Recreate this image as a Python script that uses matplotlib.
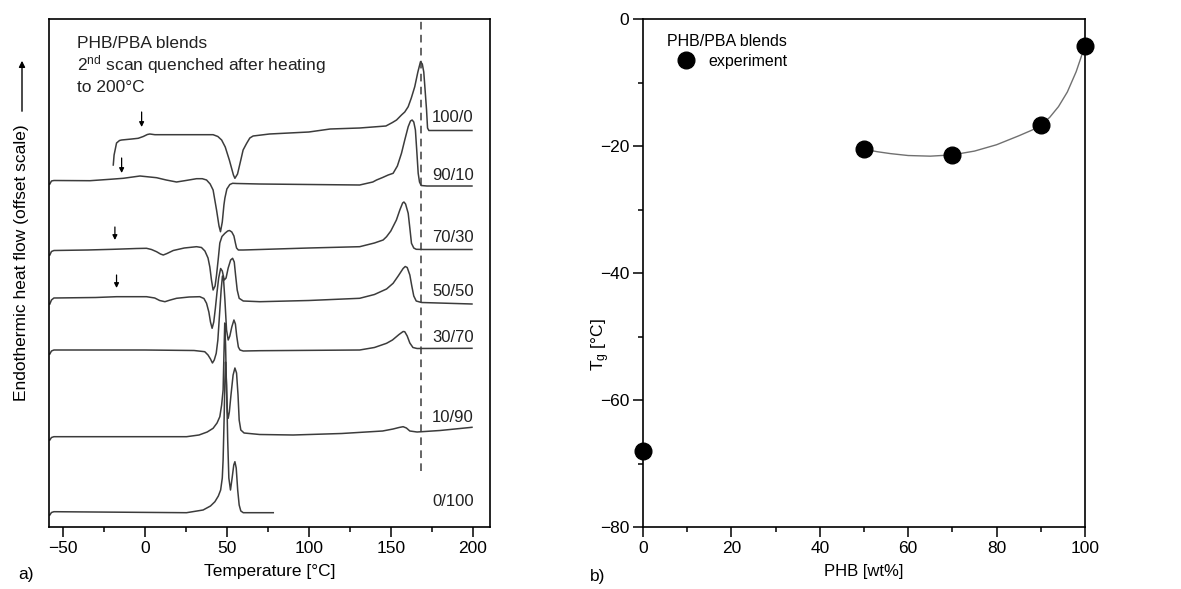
import matplotlib
matplotlib.use("Agg")
import matplotlib.pyplot as plt
from matplotlib.ticker import MultipleLocator

plt.rcParams['font.family'] = ['Liberation Sans', 'DejaVu Sans']
plt.rcParams['mathtext.fontset'] = 'custom'
plt.rcParams['mathtext.rm'] = 'Liberation Sans'
plt.rcParams['mathtext.it'] = 'Liberation Sans:italic'

# ---- a) DSC second heating scans (offset heat flow, arbitrary units) ----
t_100_0 = [-19.3, -18.8, -17.3, -15.5, -14.2, -8, -4.1, -1, 1.5, 3.0, 6.1, 20, 41.6, 44.5, 46.8, 49,
           51.5, 54, 54.9, 56.5, 58.5, 59.9, 62, 64, 66, 76, 100, 113, 131, 147, 151, 153.5, 156.5,
           158.5, 160.6, 162.5, 164.6, 166.5, 168.1, 169.2, 170.1, 171, 171.8, 172.4, 173.2, 180, 199.5]
hf_100_0 = [362, 372, 384, 386.5, 387, 388, 388.7, 390.5, 392.5, 393, 392.3, 392.3, 392.3, 390.5, 387, 380,
            367, 352, 348.7, 353, 367, 377, 383.5, 389, 391, 393, 395, 398, 399, 401, 404.5, 407, 412,
            415, 420.3, 429, 440.3, 455, 465.3, 463, 455, 435, 417, 399, 396.5, 396.5, 396.5]

t_90_10 = [-58, -57, -55.5, -33.5, -21.3, -13.2, -3, 7.1, 13, 19.3, 25, 31.5, 35, 37.6, 39.8, 41.6,
           43.7, 45.2, 46.1, 47.2, 48.2, 48.8, 50, 51.8, 53.5, 56, 70, 100, 131, 139, 141.3, 145,
           148.4, 151.4, 154, 156.5, 158.5, 160.6, 162, 163, 164, 165, 165.8, 166.7, 167.5, 168.5, 172, 199.5]
hf_90_10 = [343, 346, 346.5, 346.3, 347.7, 348.7, 351, 349.3, 347, 345, 346.5, 348.3, 348.3, 347, 343, 337,
            317, 301, 295.3, 305, 322, 329, 338, 342.5, 343.7, 343.5, 343, 342.5, 342, 345, 347, 349.5,
            352, 353.7, 361, 373.7, 387, 400.3, 406, 407, 405, 397, 377, 353.7, 345, 341.5, 341, 341]

t_70_30 = [-58, -57, -55.5, -35, -19.3, -5, 1, 4, 7.1, 9.5, 11.2, 13.5, 17.3, 24, 31.5, 34.5, 36.6,
           38.5, 39.6, 40.6, 41.6, 42.8, 43.7, 44.8, 45.7, 47, 48.8, 50.5, 51.6, 53, 54.3, 55.2, 55.9,
           57, 60, 70.1, 100, 131, 140, 145.3, 147.4, 150, 153.4, 155.5, 157.2, 158, 159, 160.6,
           161.6, 162.6, 164, 165.5, 170, 199.5]
hf_70_30 = [272, 275.5, 276.5, 277, 277.7, 278.5, 278.7, 277.5, 275.3, 273, 272, 273.5, 276.5, 279, 280.3,
            279.5, 276, 269, 260, 247, 237, 241, 252, 269, 284, 290.5, 293.7, 296, 296.5, 295, 291, 284,
            279, 277, 277, 277.5, 279, 280.3, 284, 287, 290.3, 296, 307, 317, 324, 325, 323, 313.7,
            299, 283.7, 279, 277.7, 277.5, 277.5]

t_50_50 = [-58, -57, -55.5, -30, -17.3, 1, 6, 9, 12.2, 15.5, 19.3, 27, 33.5, 36, 37.6, 39, 40, 41, 42,
           43, 44, 45, 46.2, 47.2, 48.4, 49.5, 50.8, 52.3, 53.5, 54.5, 55.3, 56.3, 57.5, 60, 70.1, 100,
           131, 140, 147.4, 151.4, 154.5, 157.5, 158.8, 160, 161.6, 162.8, 164, 165.5, 168.7, 199.5]
hf_50_50 = [223, 227, 229, 229.5, 230.3, 230.3, 229, 226.5, 225.3, 227, 228.7, 230, 230.3, 228.5, 223.7,
            215, 205, 198.7, 205, 219, 235, 249, 258.5, 256, 247, 249, 259, 267, 268.7, 265, 252, 237,
            228.7, 226, 225.3, 226.5, 228.7, 232.5, 238, 243.7, 251, 258.5, 260.5, 259.5, 252, 241, 231,
            226, 224.5, 223]

t_30_70 = [-58, -57, -55.5, 0, 30, 36.5, 38.5, 40, 41.2, 42.3, 43.5, 44.5, 45.5, 46.5, 47.3, 48, 48.8,
           49.8, 50.8, 51.8, 53, 54.3, 55.2, 56, 57, 58, 60, 70, 131, 140, 147.4, 151, 155, 157.5,
           158.5, 160, 161.6, 163.5, 166, 199.5]
hf_30_70 = [173, 176, 177, 177, 176.5, 175.3, 172, 168, 164, 167, 173.7, 187, 212, 237, 251, 247, 227,
            197, 187, 191, 200, 207, 203, 191, 180, 177, 176, 176.3, 177, 179.5, 183.7, 187, 192.5, 195.5,
            195.3, 191, 184, 179.5, 178.5, 178.7]

t_10_90 = [-58, -57, -55.5, 0, 25.4, 33, 38, 41.6, 44, 45.7, 46.8, 47.7, 48.2, 48.7, 49.2, 49.8, 50.3,
           50.8, 51.5, 52.5, 53.8, 54.9, 55.9, 56.8, 57.5, 58.5, 60.5, 70, 90.4, 120, 145, 151.4, 155,
           157.5, 159.5, 161.6, 166, 180, 199.5]
hf_10_90 = [87, 89.5, 90.3, 90.3, 90.3, 92, 95, 98.7, 104, 110.3, 122, 137, 172, 204, 182, 137, 115,
            108.7, 115, 132, 152, 159, 154, 132, 107, 97, 94, 92.5, 92, 93.5, 96, 98, 99.5,
            100.3, 99, 96, 95, 96.5, 99.7]

t_0_100 = [-58, -57, -55.5, 25.4, 35.5, 40, 42.7, 44.8, 46.2, 47.2, 47.7, 48.3, 48.8, 49.2, 49.8, 50.5,
           51.2, 52.2, 53.2, 54.2, 54.9, 55.7, 56.6, 57.5, 58.5, 60, 78.3]
hf_0_100 = [12, 14.5, 15.3, 14.3, 17, 21, 25.3, 31, 37, 49, 67, 107, 147, 165, 142, 87,
            49, 37, 49, 62, 65.3, 59, 37, 22, 16, 14.3, 14.3]

blend_labels = ['100/0', '90/10', '70/30', '50/50', '30/70', '10/90', '0/100']
label_levels = [409, 351, 289, 235, 189, 109, 25]

# glass transitions marked with arrows: (temperature, arrow tail, arrow tip)
tg_arrow_t = [-2.0, -14.2, -18.3, -17.3]
tg_arrow_tail = [415, 369, 300, 252]
tg_arrow_tip = [400, 354, 287, 239]

phb_melt_t = 168.7

# ---- b) Tg vs composition ----
phb_wt = [0, 50, 70, 90, 100]
tg_exp = [-68.1, -20.4, -21.4, -16.7, -4.2]
fit_wt = [50, 53, 56, 60, 65, 70, 75, 80, 85, 88, 90, 92, 94, 96, 98, 100]
fit_tg = [-20.5, -20.9, -21.2, -21.5, -21.6, -21.4, -20.8, -19.8, -18.4, -17.5, -16.7, -15.5,
          -13.8, -11.5, -8.3, -4.2]

line_col = '#3c3c3c'

fig = plt.figure(figsize=(11.81, 5.89), dpi=100)
W, H = 1181, 589
ax1 = fig.add_axes([49 / W, (H - 527) / H, (490 - 49) / W, (527 - 19) / H])
ax2 = fig.add_axes([643 / W, (H - 527) / H, (1085 - 643) / W, (527 - 19) / H])

curves = [(t_100_0, hf_100_0), (t_90_10, hf_90_10), (t_70_30, hf_70_30), (t_50_50, hf_50_50),
          (t_30_70, hf_30_70), (t_10_90, hf_10_90), (t_0_100, hf_0_100)]
for t, hf in curves:
    ax1.plot(t, hf, color=line_col, lw=1.1, solid_joinstyle='round')

for lab, lev in zip(blend_labels, label_levels):
    ax1.text(200.5, lev, lab, ha='right', va='center', fontsize=12, color='#222222')

for t, t0, t1 in zip(tg_arrow_t, tg_arrow_tail, tg_arrow_tip):
    ax1.annotate('', xy=(t, t1), xytext=(t, t0),
                 arrowprops=dict(arrowstyle='-|>', color='k', lw=0.9, mutation_scale=7,
                                 shrinkA=0, shrinkB=0))

ax1.plot([phb_melt_t, phb_melt_t], [56, 508], color=line_col, lw=1.1, ls=(0, (5, 3.5)))

ax1.text(-41.5, 484, 'PHB/PBA blends', fontsize=12.5, va='center', color='#222222')
ax1.text(-41.5, 462, r'2$^{\mathrm{nd}}$ scan quenched after heating', fontsize=12.5, va='center',
         color='#222222')
ax1.text(-41.5, 439, 'to 200°C', fontsize=12.5, va='center', color='#222222')

ax1.set_xlim(-58.5, 210.5)
ax1.set_ylim(0, 508)
ax1.set_yticks([])
ax1.xaxis.set_major_locator(MultipleLocator(50))
ax1.xaxis.set_minor_locator(MultipleLocator(25))
ax1.tick_params(axis='x', which='major', direction='out', length=7, width=1.1, labelsize=12.5, pad=3)
ax1.tick_params(axis='x', which='minor', direction='out', length=3.5, width=1.1)
ax1.set_xlabel('Temperature [°C]', fontsize=12.5, labelpad=6)

# right panel
ax2.plot(fit_wt, fit_tg, color='#707070', lw=1.0)
ax2.plot(phb_wt, tg_exp, 'o', color='black', ms=12, clip_on=False, zorder=5, label='experiment')
ax2.set_xlim(0, 100)
ax2.set_ylim(-80, 0)
ax2.xaxis.set_major_locator(MultipleLocator(20))
ax2.xaxis.set_minor_locator(MultipleLocator(10))
ax2.yaxis.set_major_locator(MultipleLocator(20))
ax2.yaxis.set_minor_locator(MultipleLocator(10))
ax2.tick_params(which='major', direction='out', length=7, width=1.1, labelsize=12.5, pad=3)
ax2.tick_params(which='minor', direction='out', length=3.5, width=1.1)
ax2.set_xlabel('PHB [wt%]', fontsize=12, labelpad=6)
ax2.set_ylabel(r'T$_{\mathrm{g}}$ [°C]', fontsize=12.5)
ax2.yaxis.set_label_coords(-0.07, 0.36)
leg = ax2.legend(loc='upper left', bbox_to_anchor=(0.054, 0.97), frameon=False, fontsize=11.5,
                 title='PHB/PBA blends', title_fontsize=11.5, alignment='left', borderpad=0,
                 borderaxespad=0, handlelength=2.4, handletextpad=0.2, numpoints=1, labelspacing=0.3)

for ax in (ax1, ax2):
    for sp in ax.spines.values():
        sp.set_linewidth(1.2)

fig.text(18 / W, 1 - 575 / H, 'a)', fontsize=12.5, va='center')
fig.text(590 / W, 1 - 577 / H, 'b)', fontsize=12.5, va='center')
fig.text(22 / W, 1 - 263 / H, 'Endothermic heat flow (offset scale)', rotation=90, fontsize=12.5,
         ha='center', va='center')
fig.add_artist(matplotlib.patches.FancyArrowPatch((22 / W, 1 - 114 / H), (22 / W, 1 - 58 / H),
                                                  transform=fig.transFigure, arrowstyle='-|>',
                                                  mutation_scale=9, lw=1.0, color='k'))

fig.savefig('out.png', dpi=100)
